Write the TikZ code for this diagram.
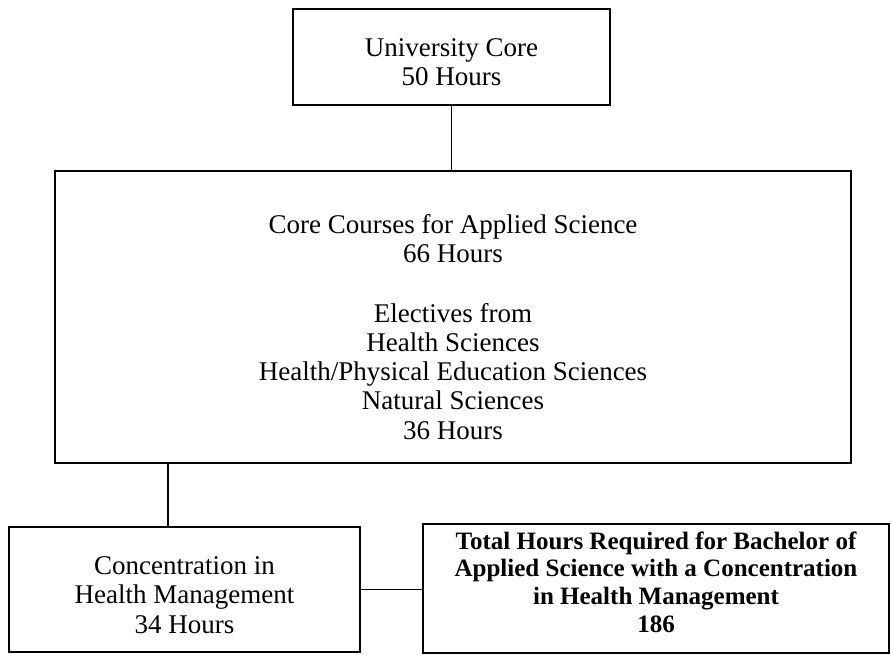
\documentclass[tikz,border=0pt]{standalone}
\usepackage{fontspec}
\setmainfont{Liberation Serif}
\begin{document}
\begin{tikzpicture}[x=1pt,y=-1pt,
  box/.style={draw=black, line width=1.8pt, rectangle, inner sep=0pt},
  txt/.style={align=center, inner sep=0pt, font=\fontsize{27}{29.3}\selectfont},
  btxt/.style={align=center, inner sep=0pt, font=\fontsize{25}{27.7}\selectfont\bfseries},
  conn/.style={draw=black, line width=1.4pt}]
\useasboundingbox (0,0) rectangle (891,655);
% boxes
\node[box, minimum width=317pt, minimum height=96pt] (uc) at (451.5,57) {};
\node[box, minimum width=796pt, minimum height=292pt] (core) at (453,317) {};
\node[box, minimum width=351pt, minimum height=125pt] (conc) at (184.5,589.5) {};
\node[box, minimum width=466pt, minimum height=129pt] (total) at (656,588.5) {};
% texts
\node[txt] (uctext) at (451.5,62.5) {University Core\\50 Hours};
\node[txt] (coretext) at (453,327) {Core Courses for Applied Science\\66 Hours\\[30pt]Electives from\\Health Sciences\\Health/Physical Education Sciences\\Natural Sciences\\36 Hours};
\node[txt] (conctext) at (184.5,595) {Concentration in\\Health Management\\34 Hours};
\node[btxt] (totaltext) at (656,582) {Total Hours Required for Bachelor of\\Applied Science with a Concentration\\in Health Management\\186};
% connectors
\coordinate (c2) at (168,0);
\draw[conn] (uc.south) -- (uc.south |- core.north);
\draw[conn] (core.south -| c2) -- (conc.north -| c2);
\draw[conn] (conc.east) -- (total.west |- conc.east);
\end{tikzpicture}
\end{document}
